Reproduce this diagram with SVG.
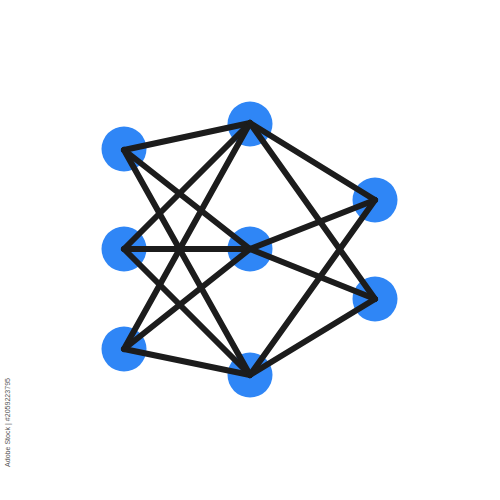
<svg xmlns="http://www.w3.org/2000/svg" width="500" height="500" viewBox="0 0 500 500">
<style>
.node{fill:#2F86F6}
.edge{stroke:#1C1C1C;stroke-width:6;stroke-linecap:round;fill:none}
.id{font-family:"Liberation Sans",Arial,sans-serif;font-size:8px;fill:#555}
</style>
<rect width="500" height="500" fill="#fff"/>
<g id="n-tl"><circle class="node" cx="124" cy="149" r="22.5"/></g>
<g id="n-ml"><circle class="node" cx="124" cy="249" r="22.5"/></g>
<g id="n-bl"><circle class="node" cx="124" cy="349" r="22.5"/></g>
<g id="n-tm"><circle class="node" cx="250" cy="124" r="22.5"/></g>
<g id="n-cm"><circle class="node" cx="250" cy="249" r="22.5"/></g>
<g id="n-bm"><circle class="node" cx="250" cy="375" r="22.5"/></g>
<g id="n-rt"><circle class="node" cx="375" cy="200" r="22.5"/></g>
<g id="n-rb"><circle class="node" cx="375" cy="299" r="22.5"/></g>
<g id="edges" class="edge">
<line x1="124" y1="150" x2="250" y2="123"/>
<line x1="124" y1="150" x2="250" y2="249"/>
<line x1="124" y1="150" x2="250" y2="375"/>
<line x1="124" y1="249" x2="250" y2="123"/>
<line x1="124" y1="249" x2="250" y2="249"/>
<line x1="124" y1="249" x2="250" y2="375"/>
<line x1="124" y1="349" x2="250" y2="123"/>
<line x1="124" y1="349" x2="250" y2="249"/>
<line x1="124" y1="349" x2="250" y2="375"/>
<line x1="250" y1="123" x2="375" y2="200"/>
<line x1="250" y1="123" x2="375" y2="299"/>
<line x1="250" y1="249" x2="375" y2="200"/>
<line x1="250" y1="249" x2="375" y2="299"/>
<line x1="250" y1="375" x2="375" y2="200"/>
<line x1="250" y1="375" x2="375" y2="299"/>
</g>
<text class="id" transform="translate(10,467) rotate(-90)" textLength="89" lengthAdjust="spacingAndGlyphs">Adobe Stock | #2059223795</text>
</svg>
